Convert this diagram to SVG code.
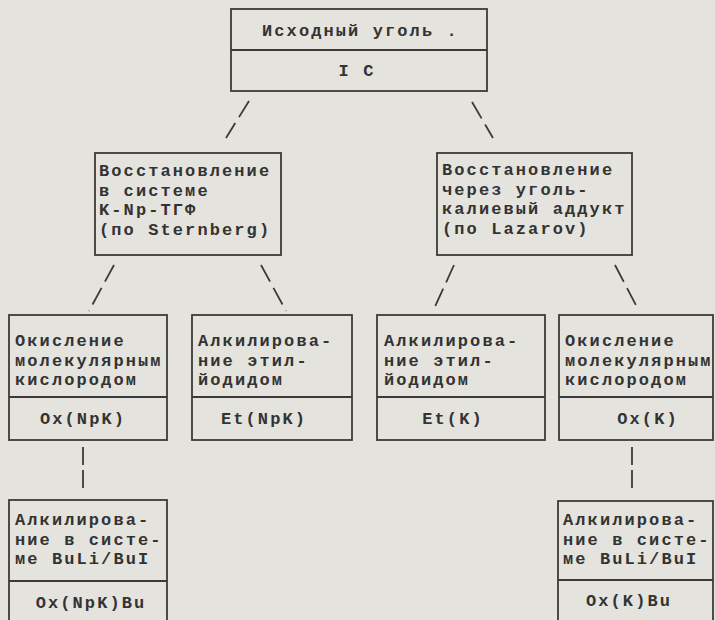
<svg xmlns="http://www.w3.org/2000/svg" width="715" height="620" viewBox="0 0 715 620">
<style>
.bg{fill:#e4e3dd}
.box{fill:none;stroke:#3a3a3a;stroke-width:1.8}
.t{font-family:"Liberation Mono","DejaVu Sans Mono",monospace;font-weight:bold;font-size:17px;letter-spacing:2.1px;fill:#333333}
.c{text-anchor:middle}
.con line{stroke:#3a3a3a;stroke-width:1.8;stroke-dasharray:19 7}
</style>
<rect class="bg" x="0" y="0" width="715" height="620"/>
<g id="connectors" class="con">
<line x1="249" y1="101" x2="226" y2="138"/>
<line x1="472" y1="102" x2="493" y2="138"/>
<line x1="114" y1="265" x2="89" y2="311"/>
<line x1="261" y1="265" x2="286" y2="311"/>
<line x1="454" y1="265" x2="433" y2="311"/>
<line x1="615" y1="265" x2="639" y2="311"/>
<line x1="83" y1="447" x2="83" y2="488" style="stroke-dasharray:18 5"/>
<line x1="632" y1="447" x2="632" y2="488" style="stroke-dasharray:18 5"/>
</g>
<g id="n-source">
<rect class="box" x="231" y="9" width="256" height="82"/>
<line class="box" x1="231" y1="50" x2="487" y2="50"/>
<text class="t" x="262" y="36">Исходный уголь .</text>
<text class="t c" x="357" y="76">I C</text>
</g>
<g id="n-sternberg">
<rect class="box" x="95" y="153" width="186" height="102"/>
<text class="t" x="99" y="176">Восстановление</text>
<text class="t" x="99" y="195.5">в системе</text>
<text class="t" x="99" y="215">K-Np-ТГФ</text>
<text class="t" x="99" y="234.5">(по Sternberg)</text>
</g>
<g id="n-lazarov">
<rect class="box" x="437" y="153" width="195" height="102"/>
<text class="t" x="442" y="175">Восстановление</text>
<text class="t" x="442" y="194.5">через уголь-</text>
<text class="t" x="442" y="214">калиевый аддукт</text>
<text class="t" x="442" y="233.5">(по Lazarov)</text>
</g>
<g id="n-ox-npk">
<rect class="box" x="9" y="315" width="158" height="125"/>
<line class="box" x1="9" y1="397" x2="167" y2="397"/>
<text class="t" x="15" y="346">Окисление</text>
<text class="t" x="15" y="365.5">молекулярным</text>
<text class="t" x="15" y="385">кислородом</text>
<text class="t c" x="83" y="424">Ox(NpK)</text>
</g>
<g id="n-et-npk">
<rect class="box" x="192" y="315" width="160" height="125"/>
<line class="box" x1="192" y1="397" x2="352" y2="397"/>
<text class="t" x="198" y="346">Алкилирова-</text>
<text class="t" x="198" y="365.5">ние этил-</text>
<text class="t" x="198" y="385">йодидом</text>
<text class="t c" x="264" y="424">Et(NpK)</text>
</g>
<g id="n-et-k">
<rect class="box" x="377" y="315" width="168" height="125"/>
<line class="box" x1="377" y1="397" x2="545" y2="397"/>
<text class="t" x="384" y="346">Алкилирова-</text>
<text class="t" x="384" y="365.5">ние этил-</text>
<text class="t" x="384" y="385">йодидом</text>
<text class="t c" x="453" y="424">Et(K)</text>
</g>
<g id="n-ox-k">
<rect class="box" x="559" y="315" width="154" height="125"/>
<line class="box" x1="559" y1="397" x2="713" y2="397"/>
<text class="t" x="565" y="346">Окисление</text>
<text class="t" x="565" y="365.5">молекулярным</text>
<text class="t" x="565" y="385">кислородом</text>
<text class="t c" x="648" y="424">Ox(K)</text>
</g>
<g id="n-ox-npk-bu">
<rect class="box" x="9" y="500" width="158" height="130"/>
<line class="box" x1="9" y1="581" x2="167" y2="581"/>
<text class="t" x="15" y="525">Алкилирова-</text>
<text class="t" x="15" y="544.5">ние в систе-</text>
<text class="t" x="15" y="564">ме BuLi/BuI</text>
<text class="t c" x="91" y="608">Ox(NpK)Bu</text>
</g>
<g id="n-ox-k-bu">
<rect class="box" x="558" y="501" width="155" height="130"/>
<line class="box" x1="558" y1="580" x2="713" y2="580"/>
<text class="t" x="563" y="525">Алкилирова-</text>
<text class="t" x="563" y="544.5">ние в систе-</text>
<text class="t" x="563" y="564">ме BuLi/BuI</text>
<text class="t c" x="629" y="606">Ox(K)Bu</text>
</g>
</svg>
